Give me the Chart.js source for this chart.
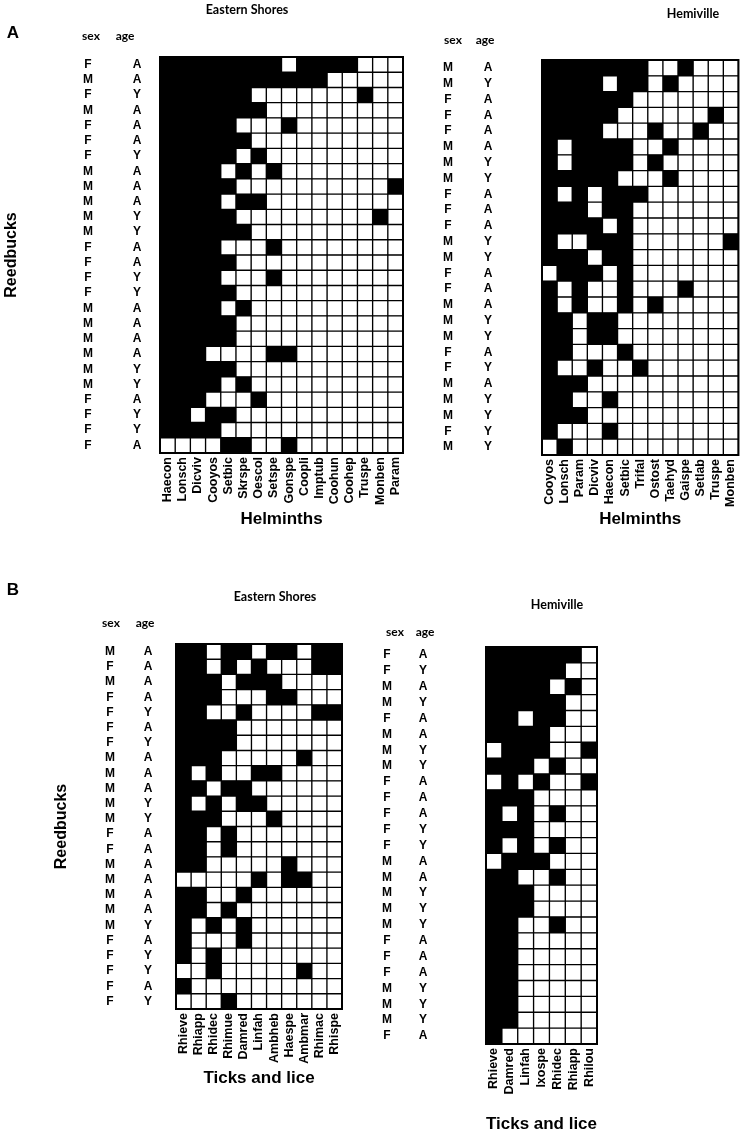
<!DOCTYPE html>
<html><head><meta charset="utf-8">
<script src="https://cdn.jsdelivr.net/npm/chart.js@4.4.1/dist/chart.umd.min.js"></script>
<style>
html,body{margin:0;padding:0;background:#fff;}
body{width:750px;height:1138px;position:relative;overflow:hidden;}
canvas{position:absolute;}
</style></head><body>
<canvas id="esA"></canvas>
<canvas id="hemA"></canvas>
<canvas id="esB"></canvas>
<canvas id="hemB"></canvas>
<script>
// ---------- DATA ----------
// Panel A, Eastern Shores (helminths)
const esA_cols = ["Haecon","Lonsch","Dicviv","Cooyos","Setbic","Skrspe","Oescol","Setspe","Gonspe","Coopli","Imptub","Coohun","Coohep","Truspe","Monben","Param"];
const esA_sex = ["F","M","F","M","F","F","F","M","M","M","M","M","F","F","F","F","M","M","M","M","M","M","F","F","F","F"];
const esA_age = ["A","A","Y","A","A","A","Y","A","A","A","Y","Y","A","A","Y","Y","A","A","A","A","Y","Y","A","Y","Y","A"];
const esA_pres = [
 [1,1,1,1,1,1,1,1,0,1,1,1,1,0,0,0],
 [1,1,1,1,1,1,1,1,1,1,1,0,0,0,0,0],
 [1,1,1,1,1,1,0,0,0,0,0,0,0,1,0,0],
 [1,1,1,1,1,1,1,0,0,0,0,0,0,0,0,0],
 [1,1,1,1,1,0,0,0,1,0,0,0,0,0,0,0],
 [1,1,1,1,1,1,0,0,0,0,0,0,0,0,0,0],
 [1,1,1,1,1,0,1,0,0,0,0,0,0,0,0,0],
 [1,1,1,1,0,1,0,1,0,0,0,0,0,0,0,0],
 [1,1,1,1,1,0,0,0,0,0,0,0,0,0,0,1],
 [1,1,1,1,0,1,1,0,0,0,0,0,0,0,0,0],
 [1,1,1,1,1,0,0,0,0,0,0,0,0,0,1,0],
 [1,1,1,1,1,1,0,0,0,0,0,0,0,0,0,0],
 [1,1,1,1,0,0,0,1,0,0,0,0,0,0,0,0],
 [1,1,1,1,1,0,0,0,0,0,0,0,0,0,0,0],
 [1,1,1,1,0,0,0,1,0,0,0,0,0,0,0,0],
 [1,1,1,1,1,0,0,0,0,0,0,0,0,0,0,0],
 [1,1,1,1,0,1,0,0,0,0,0,0,0,0,0,0],
 [1,1,1,1,1,0,0,0,0,0,0,0,0,0,0,0],
 [1,1,1,1,1,0,0,0,0,0,0,0,0,0,0,0],
 [1,1,1,0,0,0,0,1,1,0,0,0,0,0,0,0],
 [1,1,1,1,1,0,0,0,0,0,0,0,0,0,0,0],
 [1,1,1,1,0,1,0,0,0,0,0,0,0,0,0,0],
 [1,1,1,0,0,0,1,0,0,0,0,0,0,0,0,0],
 [1,1,0,1,1,0,0,0,0,0,0,0,0,0,0,0],
 [1,1,1,1,0,0,0,0,0,0,0,0,0,0,0,0],
 [0,0,0,0,1,1,0,0,1,0,0,0,0,0,0,0]
];

// Panel A, Hemiville (helminths)
const hemA_cols = ["Cooyos","Lonsch","Param","Dicviv","Haecon","Setbic","Trifal","Ostost","Taehyd","Gaispe","Setlab","Truspe","Monben"];
const hemA_sex = ["M","M","F","F","F","M","M","M","F","F","F","M","M","F","F","M","M","M","F","F","M","M","M","F","M"];
const hemA_age = ["A","Y","A","A","A","A","Y","Y","A","A","A","Y","Y","A","A","A","Y","Y","A","Y","A","Y","Y","Y","Y"];
const hemA_pres = [
 [1,1,1,1,1,1,1,0,0,1,0,0,0],
 [1,1,1,1,0,1,1,0,1,0,0,0,0],
 [1,1,1,1,1,1,0,0,0,0,0,0,0],
 [1,1,1,1,1,0,0,0,0,0,0,1,0],
 [1,1,1,1,0,0,0,1,0,0,1,0,0],
 [1,0,1,1,1,1,0,0,1,0,0,0,0],
 [1,0,1,1,1,1,0,1,0,0,0,0,0],
 [1,1,1,1,1,0,0,0,1,0,0,0,0],
 [1,0,1,0,1,1,1,0,0,0,0,0,0],
 [1,1,1,0,1,1,0,0,0,0,0,0,0],
 [1,1,1,1,0,1,0,0,0,0,0,0,0],
 [1,0,0,1,1,1,0,0,0,0,0,0,1],
 [1,1,1,0,1,1,0,0,0,0,0,0,0],
 [0,1,1,1,0,1,0,0,0,0,0,0,0],
 [1,0,1,0,0,1,0,0,0,1,0,0,0],
 [1,0,1,0,0,1,0,1,0,0,0,0,0],
 [1,1,0,1,1,0,0,0,0,0,0,0,0],
 [1,1,0,1,1,0,0,0,0,0,0,0,0],
 [1,1,0,0,0,1,0,0,0,0,0,0,0],
 [1,0,0,1,0,0,1,0,0,0,0,0,0],
 [1,1,1,0,0,0,0,0,0,0,0,0,0],
 [1,1,0,0,1,0,0,0,0,0,0,0,0],
 [1,1,1,0,0,0,0,0,0,0,0,0,0],
 [1,0,0,0,1,0,0,0,0,0,0,0,0],
 [0,1,0,0,0,0,0,0,0,0,0,0,0]
];

// Panel B, Eastern Shores (ticks and lice)
const esB_cols = ["Rhieve","Rhiapp","Rhidec","Rhimue","Damred","Linfah","Ambheb","Haespe","Ambmar","Rhimac","Rhispe"];
const esB_sex = ["M","F","M","F","F","F","F","M","M","M","M","M","F","F","M","M","M","M","M","F","F","F","F","F"];
const esB_age = ["A","A","A","A","Y","A","Y","A","A","A","Y","Y","A","A","A","A","A","A","Y","A","Y","Y","A","Y"];
const esB_pres = [
 [1,1,0,1,1,0,1,1,0,1,1],
 [1,1,0,1,0,1,0,0,0,1,1],
 [1,1,1,0,1,1,1,0,0,0,0],
 [1,1,1,0,0,0,1,1,0,0,0],
 [1,1,0,0,1,0,0,0,0,1,1],
 [1,1,1,1,0,0,0,0,0,0,0],
 [1,1,1,1,0,0,0,0,0,0,0],
 [1,1,1,0,0,0,0,0,1,0,0],
 [1,0,1,0,0,1,1,0,0,0,0],
 [1,1,0,1,1,0,0,0,0,0,0],
 [1,0,1,0,1,1,0,0,0,0,0],
 [1,1,1,0,0,0,1,0,0,0,0],
 [1,1,0,1,0,0,0,0,0,0,0],
 [1,1,0,1,0,0,0,0,0,0,0],
 [1,1,0,0,0,0,0,1,0,0,0],
 [0,0,0,0,0,1,0,1,1,0,0],
 [1,1,0,0,1,0,0,0,0,0,0],
 [1,1,0,1,0,0,0,0,0,0,0],
 [1,0,1,0,1,0,0,0,0,0,0],
 [1,0,0,0,1,0,0,0,0,0,0],
 [1,0,1,0,0,0,0,0,0,0,0],
 [0,0,1,0,0,0,0,0,1,0,0],
 [1,0,0,0,0,0,0,0,0,0,0],
 [0,0,0,1,0,0,0,0,0,0,0]
];

// Panel B, Hemiville (ticks and lice)
const hemB_cols = ["Rhieve","Damred","Linfah","Ixospe","Rhidec","Rhiapp","Rhilou"];
const hemB_sex = ["F","F","M","M","F","M","M","M","F","F","F","F","F","M","M","M","M","M","F","F","F","M","M","M","F"];
const hemB_age = ["A","Y","A","Y","A","A","Y","Y","A","A","A","Y","Y","A","A","Y","Y","Y","A","A","A","Y","Y","Y","A"];
const hemB_pres = [
 [1,1,1,1,1,1,0],
 [1,1,1,1,1,0,0],
 [1,1,1,1,0,1,0],
 [1,1,1,1,1,0,0],
 [1,1,0,1,1,0,0],
 [1,1,1,1,0,0,0],
 [0,1,1,1,0,0,1],
 [1,1,1,0,1,0,0],
 [0,1,0,1,0,0,1],
 [1,1,1,0,0,0,0],
 [1,0,1,0,1,0,0],
 [1,1,1,0,0,0,0],
 [1,0,1,0,1,0,0],
 [0,1,1,1,0,0,0],
 [1,1,0,0,1,0,0],
 [1,1,1,0,0,0,0],
 [1,1,1,0,0,0,0],
 [1,1,0,0,1,0,0],
 [1,1,0,0,0,0,0],
 [1,1,0,0,0,0,0],
 [1,1,0,0,0,0,0],
 [1,1,0,0,0,0,0],
 [1,1,0,0,0,0,0],
 [1,1,0,0,0,0,0],
 [1,0,0,0,0,0,0]
];

// ---------- RENDERING ----------
const ARIAL = '"Liberation Sans", Arial, sans-serif';
const CAL = 'Lato, "Open Sans", sans-serif';
Chart.defaults.color = '#000';

const deco = {
  id: 'deco',
  beforeDatasetsDraw(chart) {
    const {ctx, chartArea: a} = chart;
    ctx.save(); ctx.fillStyle = '#000';
    ctx.fillRect(a.left, a.top, a.right - a.left, a.bottom - a.top);
    ctx.restore();
  },
  afterDraw(chart, args, opts) {
    const {ctx, chartArea: a} = chart;
    ctx.save();
    ctx.lineWidth = 2; ctx.strokeStyle = '#000';
    ctx.strokeRect(a.left, a.top, a.right - a.left, a.bottom - a.top);
    ctx.fillStyle = '#000'; ctx.textAlign = 'center'; ctx.textBaseline = 'middle';
    (opts.texts || []).forEach(t => { ctx.font = t.font; ctx.fillText(t.text, t.x, t.y); });
    ctx.restore();
  }
};

function matrixChart(id, c) {
  const cv = document.getElementById(id);
  cv.width = c.w; cv.height = c.h;
  cv.style.left = c.x + 'px'; cv.style.top = c.y + 'px';
  const idx = c.pres.map((_, i) => String(i));
  const datasets = c.cols.map((name, j) => ({
    label: name,
    data: c.pres.map(() => 1),
    backgroundColor: c.pres.map(r => r[j] ? '#000' : '#fff'),
    borderColor: '#000', borderWidth: 1, borderSkipped: false,
    barPercentage: 1, categoryPercentage: 1
  }));
  const tickFont = {family: ARIAL, size: 12, weight: 'bold'};
  return new Chart(cv, {
    type: 'bar',
    data: {labels: idx, datasets},
    plugins: [deco],
    options: {
      indexAxis: 'y', responsive: false, animation: false, devicePixelRatio: 1,
      layout: {padding: {left: 0, top: c.aTop, right: c.w - c.aRight, bottom: 0}},
      plugins: {legend: {display: false}, tooltip: {enabled: false}, title: {display: false},
        deco: {texts: c.texts}},
      scales: {
        x: {type: 'linear', min: 0, max: c.cols.length, stacked: true, position: 'bottom',
          grid: {display: false, drawTicks: false}, border: {display: false},
          afterBuildTicks: ax => { ax.ticks = c.cols.map((_, i) => ({value: i + 0.5})); },
          ticks: {autoSkip: false, minRotation: 90, maxRotation: 90, padding: 4,
            font: {family: ARIAL, size: 12.5, weight: 'bold'}, color: '#000',
            callback: (v, i) => c.cols[i]},
          title: {display: true, text: c.xTitle, font: {family: ARIAL, size: 17, weight: 'bold'},
            color: '#000', padding: {top: 0, bottom: c.xTitlePad}},
          afterFit: s => { s.height = c.h - c.aBottom; }
        },
        y: {type: 'category', position: 'left', weight: 2, stacked: true, offset: true,
          grid: {display: false, drawTicks: false}, border: {display: false},
          ticks: {autoSkip: false, crossAlign: 'center', padding: c.sexPad, font: tickFont, color: '#000',
            callback: (v, i) => c.sex[i]},
          title: {display: !!c.yTitle, text: c.yTitle || '', font: {family: ARIAL, size: 16, weight: 'bold'},
            color: '#000', padding: {top: c.yTitlePad || 0, bottom: 0}},
          afterFit: s => { s.width = c.wSex; }
        },
        y2: {type: 'category', labels: idx, position: 'left', weight: 1, offset: true,
          grid: {display: false, drawTicks: false}, border: {display: false},
          ticks: {autoSkip: false, crossAlign: 'center', padding: c.agePad, font: tickFont, color: '#000',
            callback: (v, i) => c.age[i]},
          afterFit: s => { s.width = c.wAge; }
        }
      }
    }
  });
}

const hdr = 'bold 12px ' + CAL;
const ttl = 'bold 12.5px ' + CAL;
const pnl = 'bold 17px ' + ARIAL;

// A - Eastern Shores
matrixChart('esA', {x: 0, y: 0, w: 420, h: 545, aTop: 57, aRight: 403, aBottom: 453,
  cols: esA_cols, pres: esA_pres, sex: esA_sex, age: esA_age,
  wSex: 120, wAge: 40, sexPad: 27, agePad: 18.7,
  xTitle: 'Helminths', xTitlePad: 15, yTitle: 'Reedbucks', yTitlePad: 2,
  texts: [
    {text: 'A', x: 13, y: 33, font: pnl},
    {text: 'Eastern Shores', x: 247, y: 10, font: ttl},
    {text: 'sex', x: 91, y: 36, font: hdr},
    {text: 'age', x: 125, y: 36, font: hdr}
  ]});

// A - Hemiville
matrixChart('hemA', {x: 420, y: 0, w: 330, h: 545, aTop: 60, aRight: 327, aBottom: 455,
  cols: hemA_cols, pres: hemA_pres, sex: hemA_sex, age: hemA_age,
  wSex: 48, wAge: 74, sexPad: 15, agePad: 49.7,
  xTitle: 'Helminths', xTitlePad: 15,
  texts: [
    {text: 'Hemiville', x: 273, y: 14, font: ttl},
    {text: 'sex', x: 33, y: 40, font: hdr},
    {text: 'age', x: 65, y: 40, font: hdr}
  ]});

// B - Eastern Shores
matrixChart('esB', {x: 0, y: 560, w: 370, h: 578, aTop: 84, aRight: 342, aBottom: 449,
  cols: esB_cols, pres: esB_pres, sex: esB_sex, age: esB_age,
  wSex: 129, wAge: 47, sexPad: 14, agePad: 23.7,
  xTitle: 'Ticks and lice', xTitlePad: 49, yTitle: 'Reedbucks', yTitlePad: 52,
  texts: [
    {text: 'B', x: 13, y: 30, font: pnl},
    {text: 'Eastern Shores', x: 275, y: 37, font: ttl},
    {text: 'sex', x: 111, y: 63, font: hdr},
    {text: 'age', x: 145, y: 63, font: hdr}
  ]});

// B - Hemiville
matrixChart('hemB', {x: 370, y: 560, w: 380, h: 578, aTop: 87, aRight: 227, aBottom: 484,
  cols: hemB_cols, pres: hemB_pres, sex: hemB_sex, age: hemB_age,
  wSex: 35, wAge: 81, sexPad: 13, agePad: 58.7,
  xTitle: 'Ticks and lice', xTitlePad: 3,
  texts: [
    {text: 'Hemiville', x: 187, y: 45, font: ttl},
    {text: 'sex', x: 25, y: 72, font: hdr},
    {text: 'age', x: 55, y: 72, font: hdr}
  ]});
</script>
</body></html>
